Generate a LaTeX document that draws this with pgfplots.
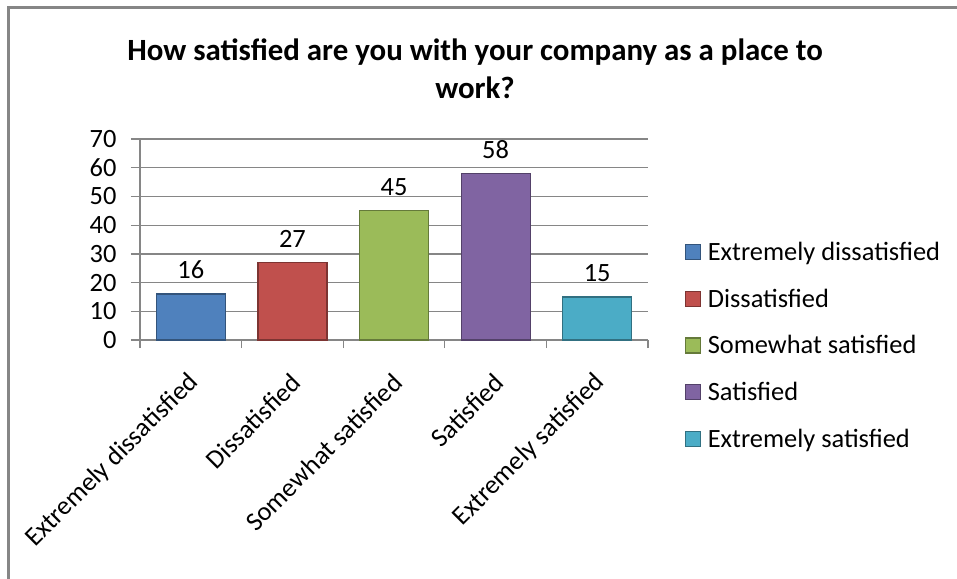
\documentclass[border=0pt]{standalone}
\usepackage{pgfplots}
\pgfplotsset{compat=1.18}
\usepackage{fontspec}
\setmainfont{Carlito}

\definecolor{cBlue}{HTML}{4F81BD}
\definecolor{cRed}{HTML}{C0504D}
\definecolor{cGreen}{HTML}{9BBB59}
\definecolor{cPurple}{HTML}{8064A2}
\definecolor{cCyan}{HTML}{4BACC6}
\definecolor{lineGray}{HTML}{868686}

\begin{document}
\begin{tikzpicture}
  \path[use as bounding box] (0,0) rectangle (957bp,-579bp);
  % chart frame (only top and left edges are visible)
  \draw[line width=3bp, lineGray] (8.5bp,-579bp) -- (8.5bp,-7.5bp) -- (957bp,-7.5bp);
  \node[font=\fontsize{31}{38}\selectfont\bfseries, align=center] at (475bp,-69bp)
    {How satisfied are you with your company as a place to\\work?};
  \begin{axis}[
    at={(140bp,-340bp)}, anchor=south west,
    scale only axis, width=508bp, height=201bp,
    xmin=-0.5, xmax=4.5, ymin=0, ymax=70,
    ytick={0,10,...,70},
    xtick={0,...,4},
    xticklabels={Extremely dissatisfied, Dissatisfied, Somewhat satisfied, Satisfied, Extremely satisfied},
    minor xtick={-0.5,0.5,...,4.5},
    axis x line*=bottom, axis y line*=left,
    axis line style={lineGray, line width=2.5bp, -},
    ymajorgrids, grid style={lineGray, line width=1.3bp},
    tick align=outside,
    major tick length=9bp, minor tick length=8bp,
    major x tick style={draw=none},
    minor x tick style={lineGray, line width=1.3bp},
    ytick style={lineGray, line width=1.3bp},
    tick label style={font=\fontsize{26.5}{30}\selectfont},
    /pgf/number format/assume math mode=true,
    yticklabel style={xshift=-11bp},
    xticklabel style={xshift=6bp, yshift=-27bp, rotate=45, anchor=east},
    ybar, bar width=69bp,
    nodes near coords,
    nodes near coords style={font=\fontsize{26.5}{30}\selectfont, yshift=11bp},
    legend style={draw=none, fill=none, at={(1.067,-0.027)}, anchor=west,
      font=\fontsize{26.5}{30}\selectfont, row sep=23bp},
    legend cell align=left,
    legend image code/.code={\fill[#1] (0bp,-7.5bp) rectangle (15bp,7.5bp);
      \path[draw=none, fill=none] (0bp,0bp) -- (20bp,0bp);},
    clip=false,
  ]
    \addplot[bar shift=0pt, fill=cBlue, draw=cBlue!65!black, line width=1.2bp] coordinates {(0,16)};
    \addplot[bar shift=0pt, fill=cRed, draw=cRed!65!black, line width=1.2bp] coordinates {(1,27)};
    \addplot[bar shift=0pt, fill=cGreen, draw=cGreen!65!black, line width=1.2bp] coordinates {(2,45)};
    \addplot[bar shift=0pt, fill=cPurple, draw=cPurple!65!black, line width=1.2bp] coordinates {(3,58)};
    \addplot[bar shift=0pt, fill=cCyan, draw=cCyan!65!black, line width=1.2bp] coordinates {(4,15)};
    \legend{Extremely dissatisfied, Dissatisfied, Somewhat satisfied, Satisfied, Extremely satisfied}
  \end{axis}
\end{tikzpicture}
\end{document}
